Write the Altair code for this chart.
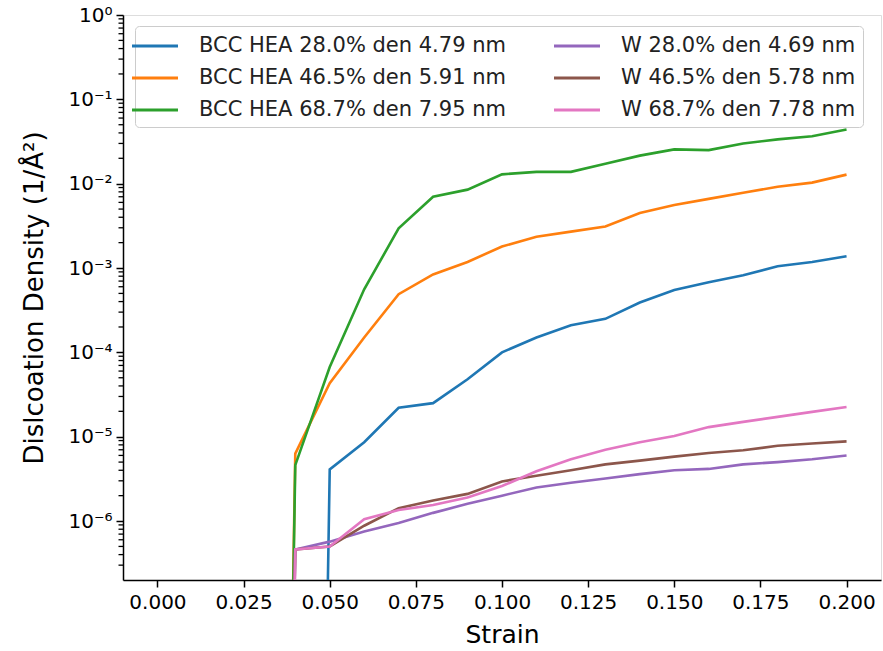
import altair as alt
import pandas as pd

strain = [0.00, 0.01, 0.02, 0.03, 0.04, 0.05, 0.06, 0.07, 0.08, 0.09, 0.10,
          0.11, 0.12, 0.13, 0.14, 0.15, 0.16, 0.17, 0.18, 0.19, 0.20]

bcc_28 = [0, 0, 0, 0, 0, 4.1e-6, 8.6e-6, 2.2e-5, 2.5e-5, 4.8e-5, 1.0e-4,
          1.5e-4, 2.1e-4, 2.5e-4, 3.9e-4, 5.5e-4, 6.8e-4, 8.2e-4, 1.05e-3, 1.18e-3, 1.38e-3]
bcc_46 = [0, 0, 0, 0, 6.3e-6, 4.3e-5, 1.5e-4, 4.9e-4, 8.4e-4, 1.18e-3, 1.8e-3,
          2.35e-3, 2.7e-3, 3.1e-3, 4.5e-3, 5.6e-3, 6.6e-3, 7.8e-3, 9.2e-3, 1.03e-2, 1.28e-2]
bcc_68 = [0, 0, 0, 0, 4.6e-6, 6.7e-5, 5.6e-4, 2.95e-3, 7.0e-3, 8.5e-3, 1.29e-2,
          1.38e-2, 1.38e-2, 1.72e-2, 2.15e-2, 2.55e-2, 2.5e-2, 3.0e-2, 3.35e-2, 3.65e-2, 4.4e-2]
w_28 = [0, 0, 0, 0, 4.6e-7, 5.7e-7, 7.5e-7, 9.5e-7, 1.25e-6, 1.6e-6, 2.0e-6,
        2.5e-6, 2.85e-6, 3.2e-6, 3.6e-6, 4.0e-6, 4.15e-6, 4.7e-6, 5.0e-6, 5.4e-6, 6.0e-6]
w_46 = [0, 0, 0, 0, 4.6e-7, 5.0e-7, 8.8e-7, 1.42e-6, 1.75e-6, 2.1e-6, 2.95e-6,
        3.45e-6, 4.0e-6, 4.7e-6, 5.2e-6, 5.8e-6, 6.4e-6, 6.9e-6, 7.8e-6, 8.3e-6, 8.8e-6]
w_68 = [0, 0, 0, 0, 4.6e-7, 5.0e-7, 1.05e-6, 1.35e-6, 1.55e-6, 1.9e-6, 2.6e-6,
        3.9e-6, 5.4e-6, 7.0e-6, 8.6e-6, 1.02e-5, 1.3e-5, 1.5e-5, 1.72e-5, 1.97e-5, 2.25e-5]

series_names = ["BCC HEA 28.0% den 4.79 nm", "BCC HEA 46.5% den 5.91 nm",
                "BCC HEA 68.7% den 7.95 nm", "W 28.0% den 4.69 nm",
                "W 46.5% den 5.78 nm", "W 68.7% den 7.78 nm"]
series_values = [bcc_28, bcc_46, bcc_68, w_28, w_46, w_68]
series_colors = ["#1f77b4", "#ff7f0e", "#2ca02c", "#9467bd", "#8c564b", "#e377c2"]

x_ticks = [0.0, 0.025, 0.05, 0.075, 0.1, 0.125, 0.15, 0.175, 0.2]
y_major = [1e0, 1e-1, 1e-2, 1e-3, 1e-4, 1e-5, 1e-6]
y_minor = [m * 10.0 ** k for k in range(-7, 0) for m in range(2, 10)
           if 2.0e-7 < m * 10.0 ** k < 1]
sup_labels = ["10⁰", "10⁻¹", "10⁻²", "10⁻³", "10⁻⁴", "10⁻⁵", "10⁻⁶"]

rows = []
for name, vals in zip(series_names, series_values):
    for s, v in zip(strain, vals):
        rows.append({"strain": s, "density": v, "series": name})
df = pd.DataFrame(rows)
minor_df = pd.DataFrame({"yplot": y_minor})

E = "log(datum.value)/LN10"
label_arr = "[" + ",".join(f"'{s}'" for s in sup_labels) + "]"
label_expr = f"{label_arr}[-round({E})]"

FONT = "DejaVu Sans"
YSCALE = alt.Scale(type="log", domain=[2.0e-7, 1.0], nice=False)
YAXIS = alt.Axis(values=y_major, labelExpr=label_expr,
                 title="Dislcoation Density (1/Å²)",
                 grid=False, tickSize=7, tickWidth=1.5, tickColor="black",
                 domainColor="black", domainWidth=1.5,
                 labelFont=FONT, labelFontSize=20, labelColor="black",
                 labelPadding=4, labelOverlap=False, labelBound=False,
                 titleFont=FONT, titleFontSize=26, titleFontWeight="normal",
                 titleColor="black", titlePadding=20)

lines = alt.Chart(df).transform_calculate(
    # log axis: non-positive values are clipped far below the view (as matplotlib does)
    yplot="max(datum.density, 1e-30)"
).mark_line(strokeWidth=2.6, clip=True).encode(
    x=alt.X("strain:Q",
            scale=alt.Scale(domain=[-0.01, 0.21], nice=False, zero=False),
            axis=alt.Axis(values=x_ticks, format=".3f", title="Strain",
                          grid=False, tickSize=7, tickWidth=1.5, tickColor="black",
                          domainColor="black", domainWidth=1.5,
                          labelFont=FONT, labelFontSize=20, labelColor="black",
                          labelPadding=5, labelOverlap=False,
                          titleFont=FONT, titleFontSize=25, titleFontWeight="normal",
                          titleColor="black", titlePadding=10)),
    y=alt.Y("yplot:Q", scale=YSCALE, axis=YAXIS),
    color=alt.Color("series:N",
                    scale=alt.Scale(domain=series_names, range=series_colors),
                    legend=alt.Legend(title=None, orient="none", legendX=12, legendY=11,
                                      columns=2, columnPadding=42, rowPadding=9,
                                      symbolType="M-2,0L2,0", symbolSize=529,
                                      symbolStrokeWidth=3,
                                      labelFont=FONT, labelFontSize=21, labelColor="#222222",
                                      labelOffset=31, labelLimit=500,
                                      padding=7, strokeColor="#cccccc", cornerRadius=4,
                                      fillColor="rgba(255,255,255,0.8)")),
    detail="series:N",
    order="strain:Q",
)

# minor log ticks on the y axis, positioned through the shared y scale
minor_ticks = alt.Chart(minor_df).mark_rule(color="black", strokeWidth=1.3).encode(
    y=alt.Y("yplot:Q", scale=YSCALE, axis=YAXIS),
    x=alt.value(-4.5),
    x2=alt.value(0),
)

chart = alt.layer(lines, minor_ticks).properties(
    width=758, height=565,
    autosize=alt.AutoSizeParams(type="none"),
    padding={"left": 123, "top": 15, "right": 2, "bottom": 71},
).configure_view(stroke="black", strokeWidth=1.5).configure(background="white")

chart.save("out.html", embed_options={"renderer": "svg", "actions": False})
